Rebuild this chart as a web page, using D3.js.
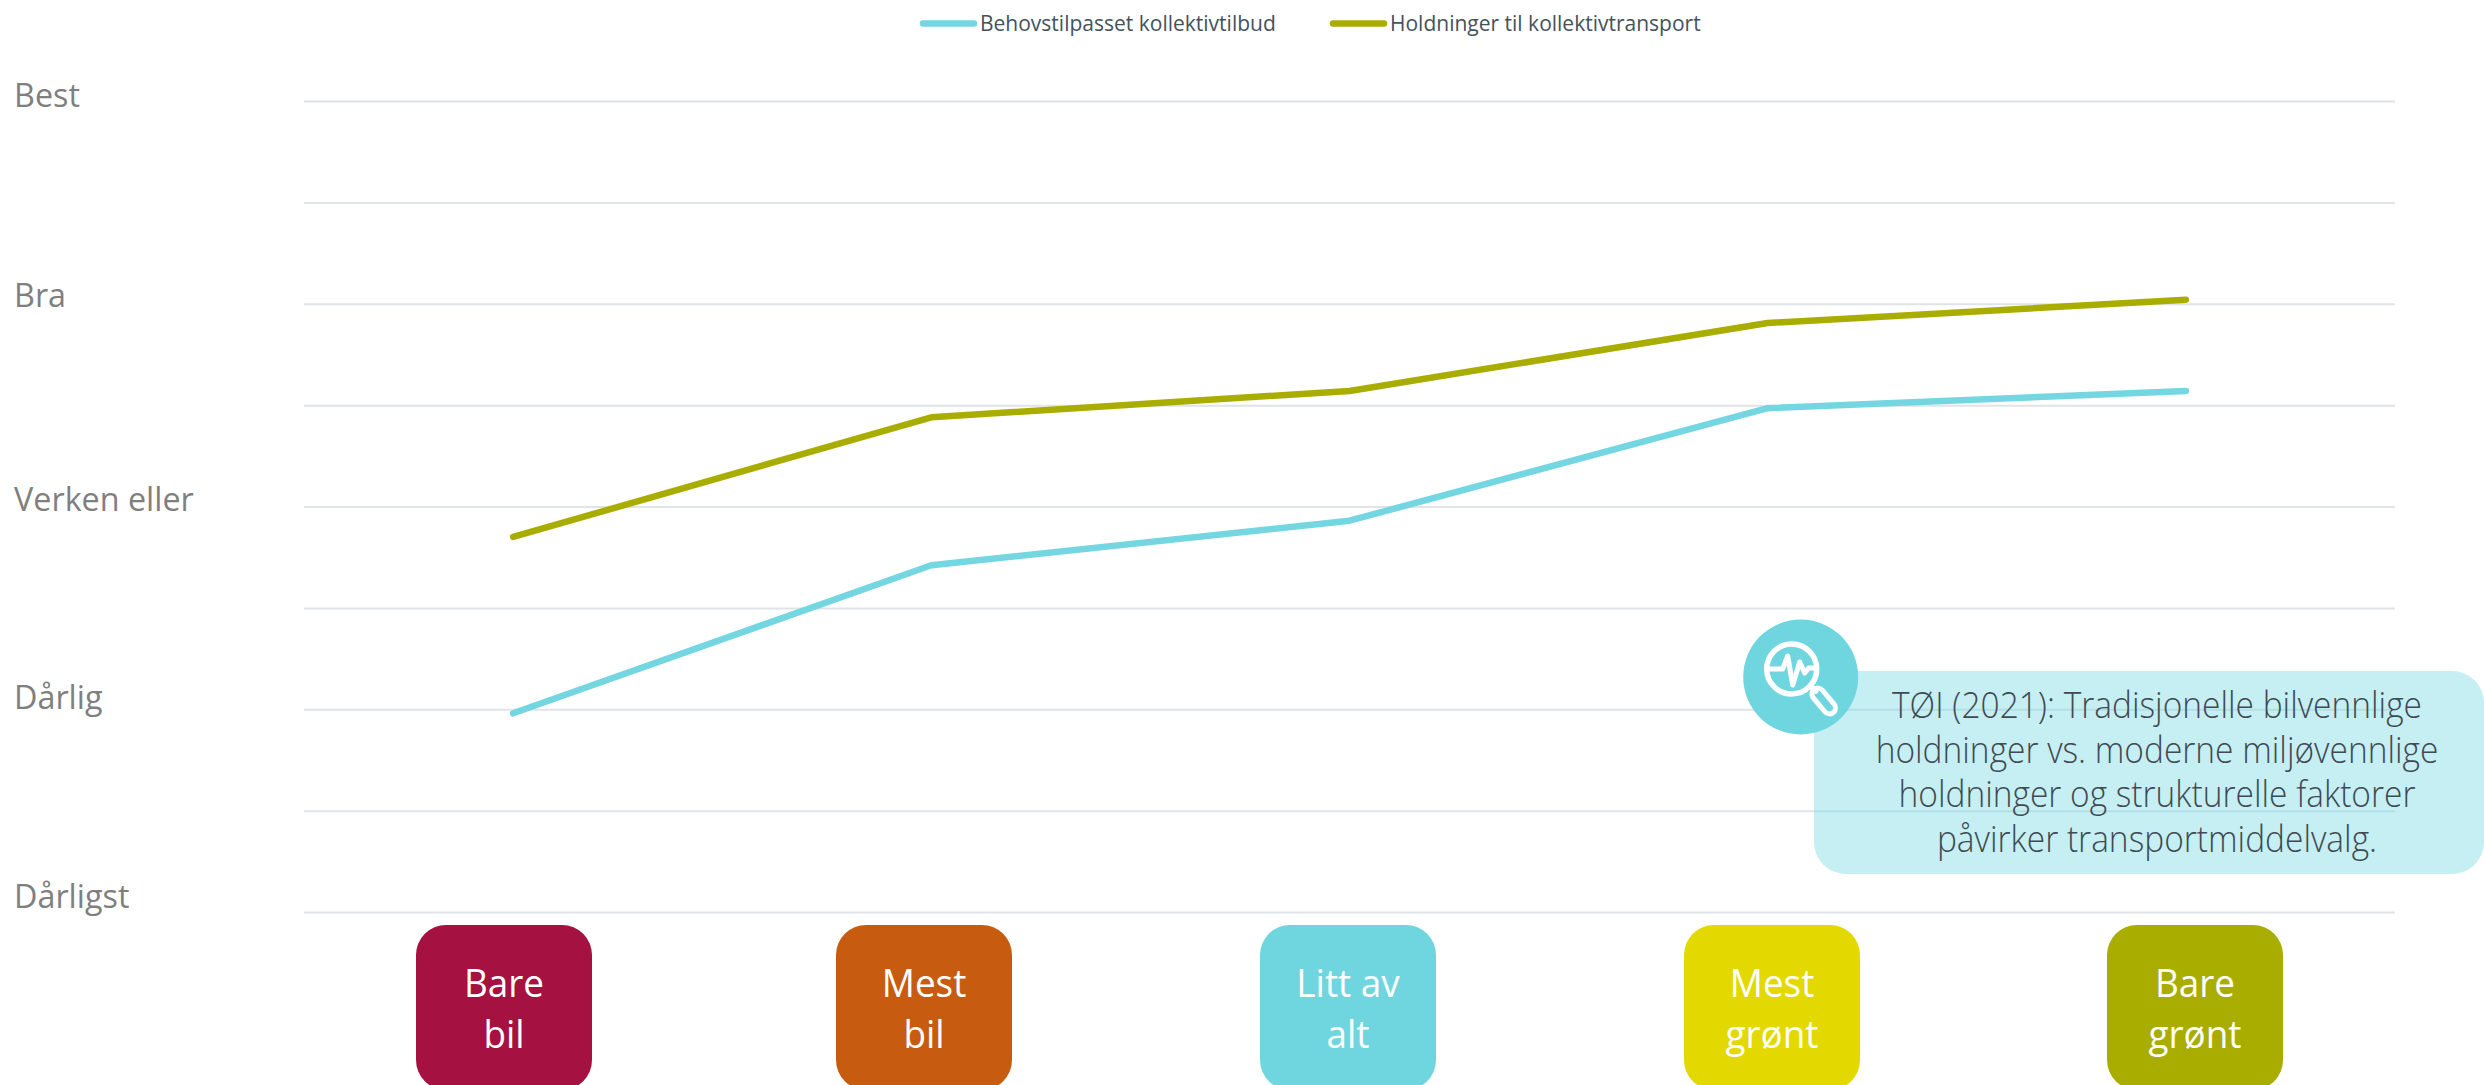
<!DOCTYPE html>
<html>
<head>
<meta charset="utf-8">
<title>Kollektivtilbud og holdninger</title>
<script src="https://cdn.jsdelivr.net/npm/d3@7"></script>
<style>
	html, body { margin: 0; padding: 0; background: #fff; overflow: hidden; }
	text { font-family: "Open Sans", "Noto Sans", sans-serif; }
</style>
</head>
<body>
<script>
var categories = ["Bare bil", "Mest bil", "Litt av alt", "Mest grønt", "Bare grønt"];
var categoryLines = [["Bare", "bil"], ["Mest", "bil"], ["Litt av", "alt"], ["Mest", "grønt"], ["Bare", "grønt"]];
var categoryColors = ["#a51140", "#c75c10", "#6fd6e0", "#e3d800", "#a8ad00"];

var behovstilpasset = [1.98, 2.71, 2.93, 3.485, 3.57];
var holdninger = [2.85, 3.44, 3.57, 3.905, 4.02];

var scaleValues = [5, 4, 3, 2, 1];
var scaleLabels = ["Best", "Bra", "Verken eller", "Dårlig", "Dårligst"];
var gridValues = [1, 1.5, 2, 2.5, 3, 3.5, 4, 4.5, 5];

var seriesNames = ["Behovstilpasset kollektivtilbud", "Holdninger til kollektivtransport"];
var seriesColors = ["#73d6e1", "#a8ad00"];

var noteLines = [
	"TØI (2021): Tradisjonelle bilvennlige",
	"holdninger vs. moderne miljøvennlige",
	"holdninger og strukturelle faktorer",
	"påvirker transportmiddelvalg."
];

var width = 2484, height = 1085;
var plot = { left: 304, right: 2395, top: 101, bottom: 912 };

var svg = d3.select("body").append("svg")
	.attr("width", width)
	.attr("height", height)
	.style("display", "block");

var x = d3.scaleBand().domain(categories).range([plot.left, plot.right]);
var y = d3.scaleLinear().domain([1, 5]).range([plot.bottom, plot.top]);

// The labels and boxes were placed by hand in the original, they don't sit on the scale
var labelY = d3.scaleOrdinal().domain(scaleValues).range([107, 307, 511, 709, 908]);
var boxX = d3.scaleOrdinal().domain(categories).range([504, 924, 1348, 1772, 2195]);

// Calibri isn't installed, so fit the text to its widths
var squeeze = function(selection, factor)
{
	selection.each(function()
	{
		var length = this.getComputedTextLength();
		d3.select(this)
			.attr("textLength", length * factor)
			.attr("lengthAdjust", "spacingAndGlyphs");
	});
};

// Grid
var grid = svg.append("g")
	.attr("transform", "translate(" + plot.left + ",0)")
	.call(d3.axisLeft(y)
		.tickValues(gridValues)
		.tickSize(-(plot.right - plot.left))
		.tickFormat(""));
grid.select(".domain").remove();
grid.selectAll("text").remove();
grid.selectAll("line")
	.attr("stroke", "#e0e4e8")
	.attr("stroke-width", 2);

// Scale labels
svg.append("g").selectAll("text")
	.data(scaleValues)
	.enter().append("text")
	.attr("x", 14)
	.attr("y", function(d) { return labelY(d); })
	.attr("fill", "#7f7f7f")
	.style("font-size", "32px")
	.text(function(d, i) { return scaleLabels[i]; })
	.call(squeeze, 1.01);

// Lines
var line = d3.line()
	.x(function(d, i) { return x(categories[i]) + x.bandwidth() / 2; })
	.y(function(d) { return y(d); });

svg.append("g").selectAll("path")
	.data([behovstilpasset, holdninger])
	.enter().append("path")
	.attr("d", line)
	.attr("fill", "none")
	.attr("stroke", function(d, i) { return seriesColors[i]; })
	.attr("stroke-width", 6.5)
	.attr("stroke-linecap", "round")
	.attr("stroke-linejoin", "round");

// Legend
var legend = svg.append("g").selectAll("g")
	.data(seriesNames)
	.enter().append("g")
	.attr("transform", function(d, i) { return "translate(" + [923, 1333][i] + ",23.5)"; });

legend.append("line")
	.attr("x1", 0)
	.attr("x2", 51)
	.attr("stroke", function(d, i) { return seriesColors[i]; })
	.attr("stroke-width", 6.5)
	.attr("stroke-linecap", "round");

legend.append("text")
	.attr("x", 57)
	.attr("y", 7.5)
	.attr("fill", "#44525c")
	.style("font-size", "21px")
	.text(function(d) { return d; })
	.call(squeeze, 1);

// Category boxes
var box = svg.append("g").selectAll("g")
	.data(categories)
	.enter().append("g")
	.attr("transform", function(d) { return "translate(" + boxX(d) + ",0)"; });

box.append("rect")
	.attr("x", -88)
	.attr("y", 925)
	.attr("width", 176)
	.attr("height", 165)
	.attr("rx", 30)
	.attr("fill", function(d, i) { return categoryColors[i]; });

box.each(function(d, i)
{
	d3.select(this).selectAll("text")
		.data(categoryLines[i])
		.enter().append("text")
		.attr("y", function(t, j) { return 997 + j * 51; })
		.attr("text-anchor", "middle")
		.attr("fill", "#fff")
		.style("font-size", "38px")
		.style("font-weight", 400)
		.text(function(t) { return t; })
		.call(squeeze, 0.97);
});

// Note
svg.append("rect")
	.attr("x", 1814)
	.attr("y", 671)
	.attr("width", 670)
	.attr("height", 203)
	.attr("rx", 32)
	.attr("fill", "#6fd6e0")
	.attr("fill-opacity", 0.4);

svg.append("g").selectAll("text")
	.data(noteLines)
	.enter().append("text")
	.attr("x", 2157)
	.attr("y", function(d, i) { return 718 + i * 44.7; })
	.attr("text-anchor", "middle")
	.attr("fill", "#3f4a52")
	.style("font-size", "36px")
	.style("font-weight", 300)
	.text(function(d) { return d; })
	.call(squeeze, 0.93);

// Magnifier icon
var icon = svg.append("g").attr("transform", "translate(1800.7,677)");

icon.append("circle")
	.attr("r", 57.5)
	.attr("fill", "#6fd6e0");

var iconLines = icon.append("g")
	.attr("fill", "none")
	.attr("stroke", "#fff")
	.attr("stroke-width", 5.5)
	.attr("stroke-linecap", "round")
	.attr("stroke-linejoin", "round");

iconLines.append("circle")
	.attr("cx", -9)
	.attr("cy", -8)
	.attr("r", 25);

iconLines.append("path")
	.attr("d", "M-33,-8H-18L-13,-21L-8,8L-1,-15L4,-4L8,-9H15")
	.attr("stroke-width", 5);

iconLines.append("path")
	.attr("d", "M10,9L15,14");

iconLines.append("rect")
	.attr("x", -15)
	.attr("y", -6)
	.attr("width", 30)
	.attr("height", 12)
	.attr("rx", 6)
	.attr("transform", "translate(23,24) rotate(50)")
	.attr("stroke-width", 5);
</script>
</body>
</html>
